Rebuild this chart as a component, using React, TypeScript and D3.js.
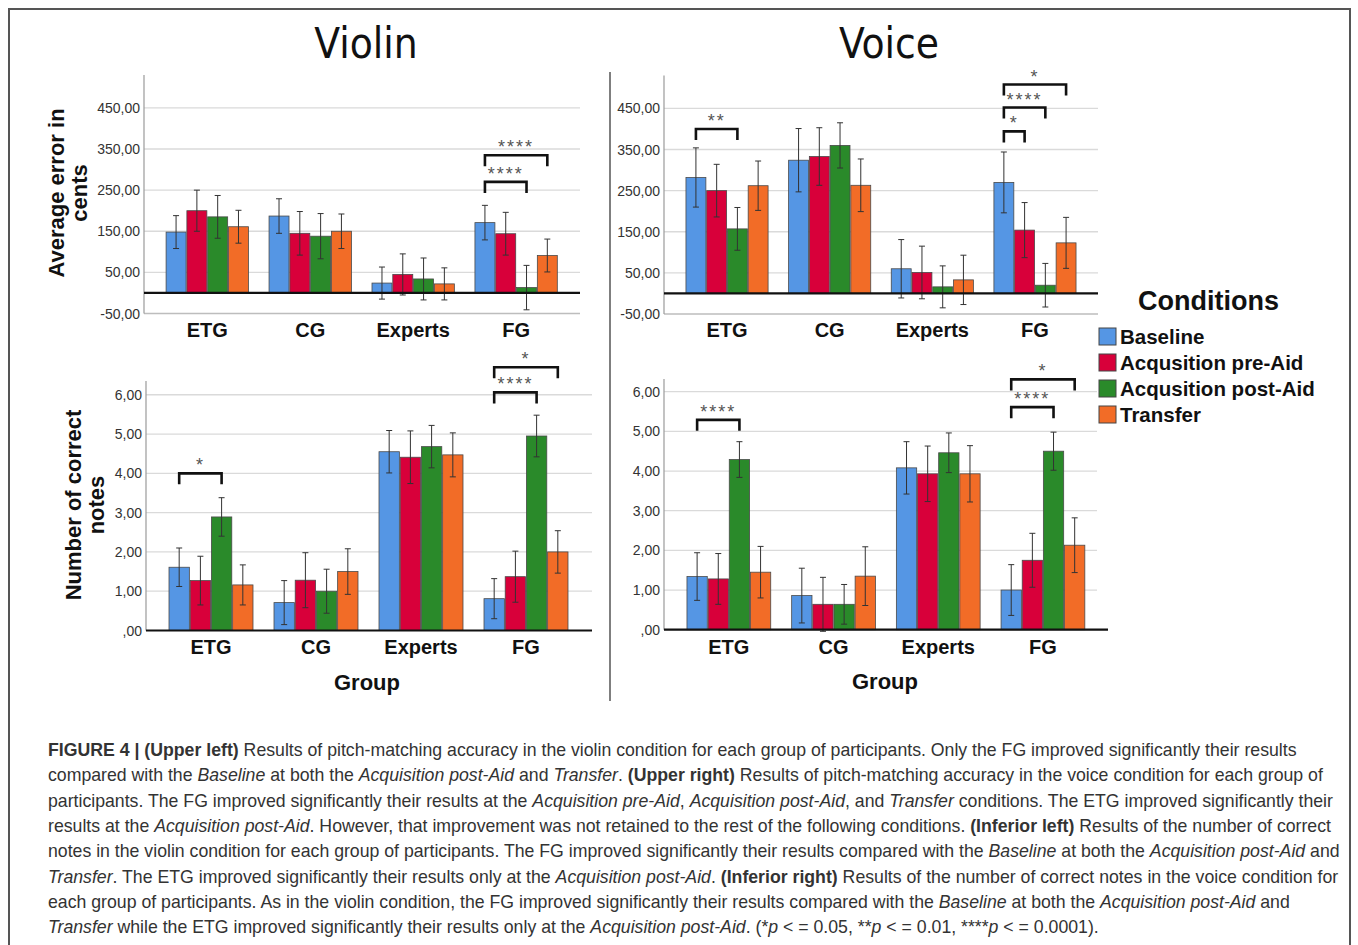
import React from "react";
import * as d3 from "d3";

const groups = ["ETG", "CG", "Experts", "FG"];
const conditions = ["Baseline", "Acqusition pre-Aid", "Acqusition post-Aid", "Transfer"];
const colors = ["#5596E4", "#D8003A", "#2A8A2A", "#F26C27"];

// Violin – average error in cents (rows: conditions, cols: groups)
const violinErrorMeans = [
  [148, 187, 24, 171],
  [200, 145, 45, 144],
  [185, 138, 34, 13],
  [161, 150, 22, 91],
];
const violinErrorCI = [
  [40, 42, 39, 42],
  [50, 53, 50, 52],
  [52, 55, 51, 54],
  [40, 42, 39, 40],
];
// Voice – average error in cents
const voiceErrorMeans = [
  [282, 324, 60, 270],
  [250, 333, 51, 154],
  [157, 360, 16, 20],
  [262, 263, 33, 123],
];
const voiceErrorCI = [
  [72, 77, 71, 74],
  [64, 70, 64, 67],
  [52, 55, 51, 53],
  [60, 64, 60, 62],
];
// Violin – number of correct notes
const violinNotesMeans = [
  [1.61, 0.71, 4.55, 0.81],
  [1.27, 1.28, 4.41, 1.37],
  [2.89, 1.0, 4.68, 4.95],
  [1.16, 1.5, 4.47, 2.0],
];
const violinNotesCI = [
  [0.49, 0.56, 0.54, 0.51],
  [0.62, 0.7, 0.67, 0.65],
  [0.49, 0.56, 0.54, 0.53],
  [0.51, 0.58, 0.56, 0.54],
];
// Voice – number of correct notes
const voiceNotesMeans = [
  [1.34, 0.86, 4.08, 1.0],
  [1.28, 0.64, 3.93, 1.75],
  [4.29, 0.64, 4.46, 4.5],
  [1.45, 1.35, 3.93, 2.13],
];
const voiceNotesCI = [
  [0.6, 0.69, 0.66, 0.64],
  [0.64, 0.68, 0.7, 0.68],
  [0.45, 0.5, 0.5, 0.48],
  [0.65, 0.74, 0.71, 0.69],
];

const errorTicks = [-50, 50, 150, 250, 350, 450];
const notesTicks = [0, 1, 2, 3, 4, 5, 6];

// significance brackets: group, from condition idx, to condition idx, y value, label
const violinErrorBrackets = [
  { group: "FG", from: 0, to: 2, y: 270, label: "****" },
  { group: "FG", from: 0, to: 3, y: 335, label: "****" },
];
const voiceErrorBrackets = [
  { group: "ETG", from: 0, to: 2, y: 400, label: "**" },
  { group: "FG", from: 0, to: 1, y: 394, label: "*" },
  { group: "FG", from: 0, to: 2, y: 452, label: "****" },
  { group: "FG", from: 0, to: 3, y: 508, label: "*" },
];
const violinNotesBrackets = [
  { group: "ETG", from: 0, to: 2, y: 4.0, label: "*" },
  { group: "FG", from: 0, to: 2, y: 6.06, label: "****" },
  { group: "FG", from: 0, to: 3, y: 6.7, label: "*" },
];
const voiceNotesBrackets = [
  { group: "ETG", from: 0, to: 2, y: 5.29, label: "****" },
  { group: "FG", from: 0, to: 2, y: 5.61, label: "****" },
  { group: "FG", from: 0, to: 3, y: 6.31, label: "*" },
];

const fmt = (v: number) => {
  const s = d3.format(".2f")(Math.abs(v)).replace(".", ",");
  const t = s.startsWith("0,") ? s.slice(1) : s;
  return (v < 0 ? "-" : "") + t;
};

const SANS = "'Liberation Sans', Arial, Helvetica, sans-serif";

type PanelProps = {
  axisX: number;
  gridEnd: number;
  zeroEnd: number;
  bandRange: [number, number];
  yDomain: [number, number];
  yRange: [number, number];
  ticks: number[];
  means: number[][];
  cis: number[][];
  brackets: { group: string; from: number; to: number; y: number; label: string }[];
  labelY: number;
};

function Panel(p: PanelProps) {
  const x = d3.scaleBand<string>().domain(groups).range(p.bandRange).paddingInner(0.2).paddingOuter(0.1);
  const xi = d3.scaleBand<string>().domain(conditions).range([0, x.bandwidth()]).paddingInner(0.04);
  const y = d3.scaleLinear().domain(p.yDomain).range(p.yRange);
  const y0 = y(0);
  const bw = xi.bandwidth();
  const barCenter = (g: string, ci: number) => (x(g) as number) + (xi(conditions[ci]) as number) + bw / 2;
  return (
    <g>
      {p.ticks.filter((t) => t !== 0).map((t) => (
        <line key={"g" + t} x1={p.axisX} x2={p.gridEnd} y1={y(t)} y2={y(t)} stroke={t < 0 ? "#bdbdbd" : "#dadada"} strokeWidth={1.3} />
      ))}
      <line x1={p.axisX} x2={p.axisX} y1={p.yRange[1]} y2={p.yRange[0]} stroke="#9a9a9a" strokeWidth={1.2} />
      {p.ticks.map((t) => (
        <text key={"t" + t} x={p.axisX - 4} y={y(t) + 5} textAnchor="end" fontFamily={SANS} fontSize={14} fill="#333">
          {fmt(t)}
        </text>
      ))}
      {groups.map((g, gi) => (
        <g key={g}>
          {conditions.map((c, ci) => {
            const v = p.means[ci][gi];
            const e = p.cis[ci][gi];
            const bx = (x(g) as number) + (xi(c) as number);
            const cx = bx + bw / 2;
            return (
              <g key={c}>
                <rect x={bx} y={Math.min(y(v), y0)} width={bw} height={Math.abs(y0 - y(v))} fill={colors[ci]} stroke="#4a4a4a" strokeWidth={0.8} />
                <line x1={cx} x2={cx} y1={y(v + e)} y2={y(v - e)} stroke="#333" strokeWidth={1} />
                <line x1={cx - 3} x2={cx + 3} y1={y(v + e)} y2={y(v + e)} stroke="#333" strokeWidth={1} />
                <line x1={cx - 3} x2={cx + 3} y1={y(v - e)} y2={y(v - e)} stroke="#333" strokeWidth={1} />
              </g>
            );
          })}
          <text x={(x(g) as number) + x.bandwidth() / 2} y={p.labelY} textAnchor="middle" fontFamily={SANS} fontWeight="bold" fontSize={20} fill="#111">
            {g}
          </text>
        </g>
      ))}
      <line x1={p.axisX} x2={p.zeroEnd} y1={y0} y2={y0} stroke="#111" strokeWidth={2.2} />
      {p.brackets.map((b, i) => {
        const xa = barCenter(b.group, b.from);
        const xb = barCenter(b.group, b.to);
        const yy = y(b.y);
        return (
          <g key={"b" + i}>
            <path d={`M${xa},${yy + 11}V${yy}H${xb}V${yy + 11}`} fill="none" stroke="#111" strokeWidth={2.6} />
            <text x={(xa + xb) / 2} y={yy - 2} textAnchor="middle" fontFamily={SANS} fontSize={18} letterSpacing={2} fill="#555">
              {b.label}
            </text>
          </g>
        );
      })}
    </g>
  );
}

const captionLines: [string, string][][] = [
  [["b", "FIGURE 4 | (Upper left)"], ["n", " Results of pitch-matching accuracy in the violin condition for each group of participants. Only the FG improved significantly their results"]],
  [["n", "compared with the "], ["i", "Baseline"], ["n", " at both the "], ["i", "Acquisition post-Aid"], ["n", " and "], ["i", "Transfer"], ["n", ". "], ["b", "(Upper right)"], ["n", " Results of pitch-matching accuracy in the voice condition for each group of"]],
  [["n", "participants. The FG improved significantly their results at the "], ["i", "Acquisition pre-Aid"], ["n", ", "], ["i", "Acquisition post-Aid"], ["n", ", and "], ["i", "Transfer"], ["n", " conditions. The ETG improved significantly their"]],
  [["n", "results at the "], ["i", "Acquisition post-Aid"], ["n", ". However, that improvement was not retained to the rest of the following conditions. "], ["b", "(Inferior left)"], ["n", " Results of the number of correct"]],
  [["n", "notes in the violin condition for each group of participants. The FG improved significantly their results compared with the "], ["i", "Baseline"], ["n", " at both the "], ["i", "Acquisition post-Aid"], ["n", " and"]],
  [["i", "Transfer"], ["n", ". The ETG improved significantly their results only at the "], ["i", "Acquisition post-Aid"], ["n", ". "], ["b", "(Inferior right)"], ["n", " Results of the number of correct notes in the voice condition for"]],
  [["n", "each group of participants. As in the violin condition, the FG improved significantly their results compared with the "], ["i", "Baseline"], ["n", " at both the "], ["i", "Acquisition post-Aid"], ["n", " and"]],
  [["i", "Transfer"], ["n", " while the ETG improved significantly their results only at the "], ["i", "Acquisition post-Aid"], ["n", ". (*"], ["i", "p"], ["n", " < = 0.05, **"], ["i", "p"], ["n", " < = 0.01, ****"], ["i", "p"], ["n", " < = 0.0001)."]],
];

export default function App() {
  return (
    <svg width={1358} height={945} style={{ position: "absolute", left: 0, top: 0, background: "#fff" }}>
      <rect x={0} y={0} width={1358} height={945} fill="#fff" />
      <path d="M9,950V9H1350V950" fill="none" stroke="#555" strokeWidth={2} />
      <text x={366} y={58} textAnchor="middle" fontFamily="'Liberation Sans Narrow', 'DejaVu Sans Condensed', sans-serif" fontSize={42} fill="#111">Violin</text>
      <text x={889} y={58} textAnchor="middle" fontFamily="'Liberation Sans Narrow', 'DejaVu Sans Condensed', sans-serif" fontSize={42} fill="#111">Voice</text>
      <line x1={610} x2={610} y1={72} y2={701} stroke="#555" strokeWidth={1.5} />

      <Panel axisX={144} gridEnd={580} zeroEnd={580} bandRange={[155.8, 567.6]} yDomain={[-50, 530]} yRange={[313.5, 75]} ticks={errorTicks} means={violinErrorMeans} cis={violinErrorCI} brackets={violinErrorBrackets} labelY={337} />
      <Panel axisX={664} gridEnd={1098} zeroEnd={1098} bandRange={[675.7, 1086.3]} yDomain={[-50, 530]} yRange={[314, 75.5]} ticks={errorTicks} means={voiceErrorMeans} cis={voiceErrorCI} brackets={voiceErrorBrackets} labelY={337} />
      <Panel axisX={146} gridEnd={592} zeroEnd={592} bandRange={[158.5, 578.5]} yDomain={[0, 6.35]} yRange={[630.5, 381]} ticks={notesTicks} means={violinNotesMeans} cis={violinNotesCI} brackets={violinNotesBrackets} labelY={654} />
      <Panel axisX={664} gridEnd={1097} zeroEnd={1108} bandRange={[676.5, 1095.3]} yDomain={[0, 6.32]} yRange={[629.7, 379]} ticks={notesTicks} means={voiceNotesMeans} cis={voiceNotesCI} brackets={voiceNotesBrackets} labelY={654} />

      <g fontFamily={SANS} fontWeight="bold" fontSize={22} fill="#111" textAnchor="middle">
        <text transform="translate(64,193) rotate(-90)">Average error in</text>
        <text transform="translate(87,193) rotate(-90)">cents</text>
        <text transform="translate(81,505) rotate(-90)">Number of correct</text>
        <text transform="translate(104,505) rotate(-90)">notes</text>
        <text x={367} y={690}>Group</text>
        <text x={885} y={689}>Group</text>
      </g>

      <text x={1138} y={310} fontFamily={SANS} fontWeight="bold" fontSize={27} fill="#111">Conditions</text>
      {conditions.map((c, i) => (
        <g key={c}>
          <rect x={1099} y={328 + i * 26} width={17} height={17} fill={colors[i]} stroke="#444" strokeWidth={1} />
          <text x={1120} y={344 + i * 26} fontFamily={SANS} fontWeight="bold" fontSize={20.5} fill="#111">{c}</text>
        </g>
      ))}

      <g fontFamily={SANS} fontSize={17.7} fill="#333">
        {captionLines.map((line, li) => (
          <text key={li} x={48} y={756 + li * 25.3}>
            {line.map(([k, t], j) => (
              <tspan key={j} fontWeight={k === "b" ? "bold" : "normal"} fontStyle={k === "i" ? "italic" : "normal"}>{t}</tspan>
            ))}
          </text>
        ))}
      </g>
    </svg>
  );
}
